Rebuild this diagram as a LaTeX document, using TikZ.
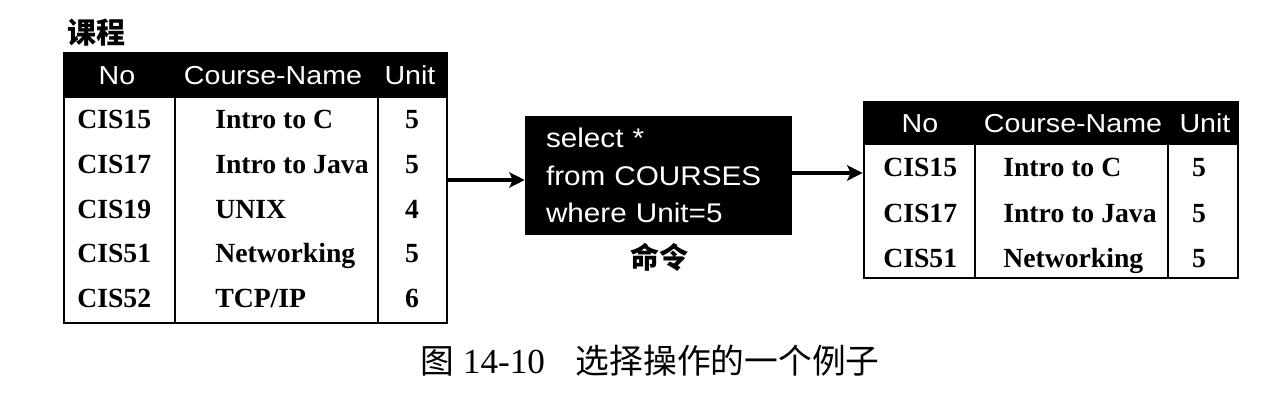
\documentclass[tikz,border=0pt]{standalone}
\usepackage{fontspec}
\setmainfont{Liberation Serif}
\newfontfamily\headfont[FakeStretch=1.1]{Liberation Sans}
\newfontfamily\cjkfont{Noto Sans CJK SC}
\usetikzlibrary{arrows.meta,positioning,calc}

\tikzset{
    tablebox/.style={draw, line width=2pt, inner sep=0pt},
    headtext/.style={text=white, inner sep=0pt, font=\headfont\fontsize{18.5}{22}\selectfont},
    cell/.style={inner sep=0pt, font=\bfseries\fontsize{19.7}{24}\selectfont},
    cmdbox/.style={fill=black, text=white, align=left, inner ysep=0pt,
                   font=\headfont\fontsize{19.2}{26.7}\selectfont},
    cjklabel/.style={inner sep=0pt, font=\cjkfont\bfseries\fontsize{20.6}{24}\selectfont},
    colline/.style={line width=1.6pt},
    flow/.style={line width=2.5pt, -{Stealth[length=11pt,width=11pt,inset=2.5pt]}}
}

\begin{document}
\begin{tikzpicture}[x=0.025cm, y=-0.025cm]
        \useasboundingbox (0,0) rectangle (1280,400);

        % Parameters
        \def\px{0.025cm}      % one pixel of the reference
        \def\rowStep{44.5}    % distance between two rows

        % Table name
        \node[cjklabel] (title) at (96,33) {课程};

        % Left table: COURSES
        \node[tablebox, minimum width=383*\px, minimum height=270*\px] (courses) at (255.5,188) {};
        \fill (courses.north west) rectangle (courses.east |- 0,98);
        \draw[colline] (175,98) -- (175,323);
        \draw[colline] (378,98) -- (378,323);

        \node[headtext, anchor=base] (lhno) at (117,85) {No};
        \node[headtext, anchor=base] (lhname) at (273,85) {Course-Name};
        \node[headtext, anchor=base] (lhunit) at (410,85) {Unit};

        \foreach \no/\name/\unit [count=\i from 0] in
            {CIS15/Intro to C/5, CIS17/Intro to Java/5, CIS19/UNIX/4,
             CIS51/Networking/5, CIS52/{TCP/IP}/6} {
            \node[cell, anchor=base west] (lno\i) at (77,129+\rowStep*\i) {\no};
            \node[cell, anchor=base west] (lname\i) at (215,129+\rowStep*\i) {\name};
            \node[cell, anchor=base] (lunit\i) at (412,129+\rowStep*\i) {\unit};
        }

        % Command
        \node[cmdbox, minimum width=267*\px, minimum height=119*\px,
              text width=225*\px, inner xsep=21*\px] (cmd) at (658.5,175.5)
              {select *\\from COURSES\\where Unit=5};
        \node[cjklabel] (cmdlabel) at (659,257) {命令};

        % Right table: result
        \node[tablebox, minimum width=374*\px, minimum height=176*\px] (result) at (1051,190) {};
        \fill (result.north west) rectangle (result.east |- 0,145);
        \draw[colline] (975,145) -- (975,278);
        \draw[colline] (1168,145) -- (1168,278);

        \node[headtext, anchor=base] (rhno) at (920,133) {No};
        \node[headtext, anchor=base] (rhname) at (1073,133) {Course-Name};
        \node[headtext, anchor=base] (rhunit) at (1205,133) {Unit};

        \foreach \no/\name/\unit [count=\i from 0] in
            {CIS15/Intro to C/5, CIS17/Intro to Java/5, CIS51/Networking/5} {
            \node[cell, anchor=base west] (rno\i) at (883,177+45*\i) {\no};
            \node[cell, anchor=base west] (rname\i) at (1003,177+45*\i) {\name};
            \node[cell, anchor=base] (runit\i) at (1199,177+45*\i) {\unit};
        }

        % Arrows
        \draw[flow] (courses.east |- 0,180) -- (cmd.west |- 0,180);
        \draw[flow] (cmd.east |- 0,173) -- (result.west |- 0,173);

        % Caption
        \node[inner sep=0pt, font=\fontsize{25}{30}\selectfont] (caption) at (650,361)
            {{\cjkfont\fontsize{24}{30}\selectfont 图} 14-10\hspace{22pt}{\cjkfont\fontsize{24}{30}\selectfont 选择操作的一个例子}};

\end{tikzpicture}
\end{document}
